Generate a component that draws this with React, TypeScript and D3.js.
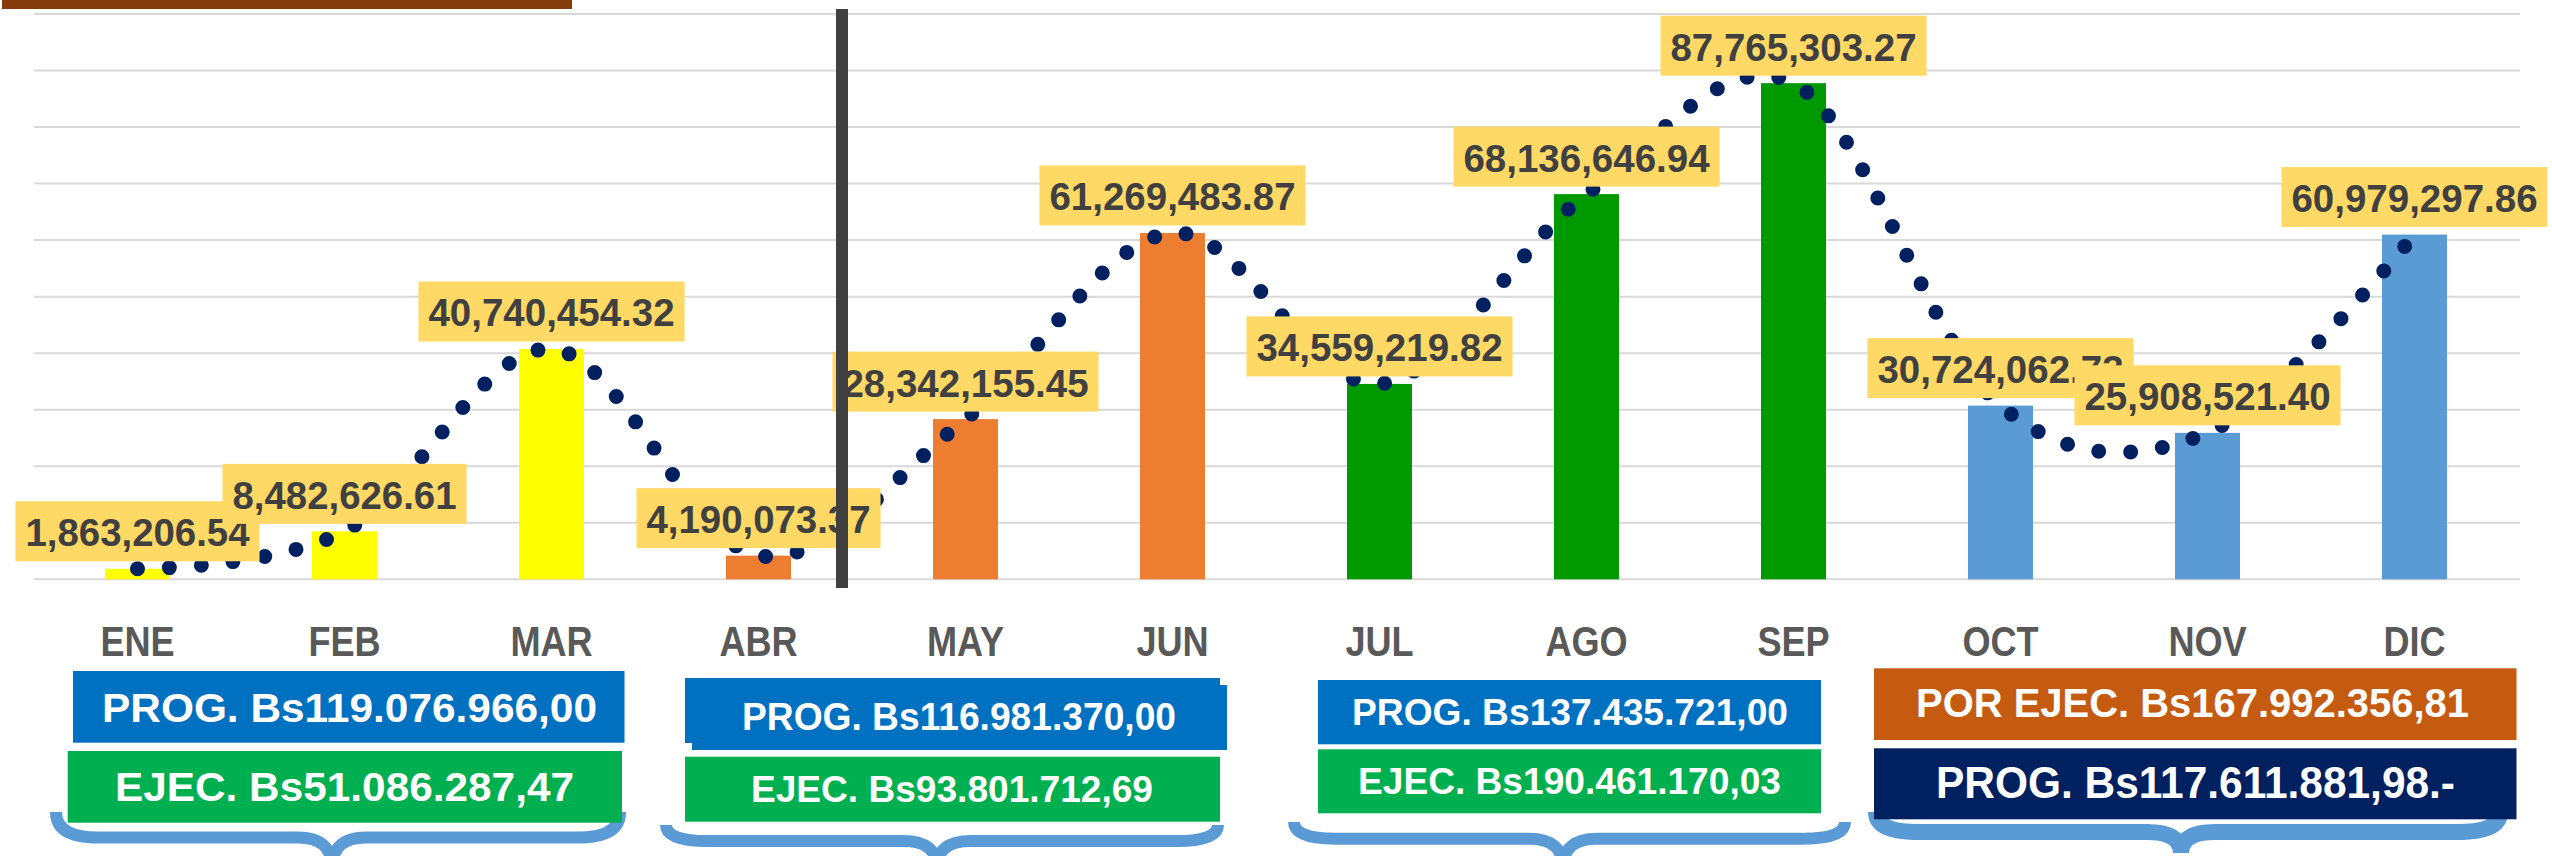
import React from 'react';
import * as d3 from 'd3';

// ---------- data ----------
const months = ['ENE', 'FEB', 'MAR', 'ABR', 'MAY', 'JUN', 'JUL', 'AGO', 'SEP', 'OCT', 'NOV', 'DIC'];
const values = [
  1863206.54, 8482626.61, 40740454.32, 4190073.37, 28342155.45, 61269483.87,
  34559219.82, 68136646.94, 87765303.27, 30724062.73, 25908521.4, 60979297.86,
];
const monthQuarter = [0, 0, 0, 1, 1, 1, 2, 2, 2, 3, 3, 3];
const quarterColors = ['#FFFF00', '#ED7D31', '#009900', '#5B9BD5'];
const yMax = 100000000;

const summaryTexts = [
  'PROG. Bs119.076.966,00',
  'EJEC. Bs51.086.287,47',
  'PROG. Bs116.981.370,00',
  'EJEC. Bs93.801.712,69',
  'PROG. Bs137.435.721,00',
  'EJEC. Bs190.461.170,03',
  'POR EJEC. Bs167.992.356,81',
  'PROG. Bs117.611.881,98.-',
];

// ---------- layout ----------
const W = 2552;
const H = 856;
const plot = { left: 34, right: 2518, top: 14, bottom: 579.3, gridRight: 2520 };

const summaryLayout = [
  { rects: [[73, 671, 624.5, 742.7]], fill: '#0070C0', tx0: 102, tx1: 597, base: 721.7, fs: 41 },
  { rects: [[67.7, 751, 622, 822.7]], fill: '#00B050', tx0: 115, tx1: 574, base: 800.7, fs: 41 },
  { rects: [[685, 678, 1220, 743], [692, 685, 1227, 750]], fill: '#0070C0', tx0: 742, tx1: 1176, base: 730, fs: 38 },
  { rects: [[685, 756.7, 1220, 821.7]], fill: '#00B050', tx0: 751, tx1: 1153, base: 801.7, fs: 37 },
  { rects: [[1318, 680, 1821, 744.3]], fill: '#0070C0', tx0: 1352, tx1: 1788, base: 725, fs: 36 },
  { rects: [[1318, 749.3, 1821, 813.3]], fill: '#00B050', tx0: 1358, tx1: 1781, base: 794, fs: 37 },
  { rects: [[1874, 668.3, 2516.5, 740]], fill: '#C55A11', tx0: 1916, tx1: 2469, base: 716.7, fs: 40 },
  { rects: [[1874, 748.3, 2516.5, 819.3]], fill: '#002060', tx0: 1936, tx1: 2455, base: 798.3, fs: 44 },
];

const braces = [
  { x0: 56, x1: 620, tip: 332, yTop: 812, yBand: 837.5, yTip: 868, w: 12 },
  { x0: 666, x1: 1218, tip: 937, yTop: 825, yBand: 841, yTip: 868, w: 12 },
  { x0: 1294, x1: 1845, tip: 1563, yTop: 822, yBand: 838.7, yTip: 868, w: 12 },
  { x0: 1876, x1: 2500, tip: 2181, yTop: 812, yBand: 832, yTip: 853, w: 16 },
];

function bracePath(b: { x0: number; x1: number; tip: number; yTop: number; yBand: number; yTip: number }) {
  const re = 42;
  const rt = 34;
  return [
    `M${b.x0},${b.yTop}`,
    `Q${b.x0},${b.yBand} ${b.x0 + re},${b.yBand}`,
    `L${b.tip - rt},${b.yBand}`,
    `Q${b.tip},${b.yBand} ${b.tip},${b.yTip}`,
    `M${b.tip},${b.yTip}`,
    `Q${b.tip},${b.yBand} ${b.tip + rt},${b.yBand}`,
    `L${b.x1 - re},${b.yBand}`,
    `Q${b.x1},${b.yBand} ${b.x1},${b.yTop}`,
  ].join(' ');
}

const labelFont = "'Liberation Sans', Arial, sans-serif";

export default function App() {
  const x = d3.scaleBand<string>().domain(months).range([plot.left, plot.right]).padding(0);
  const y = d3.scaleLinear().domain([0, yMax]).range([plot.bottom, plot.top]);
  const step = x.step();
  const barW = step * 0.314;
  const cx = (m: string) => (x(m) as number) + step / 2;

  const fmt = d3.format(',.2f');
  const pts: [number, number][] = months.map((m, i) => [cx(m), y(values[i])]);
  const linePath = d3.line().curve(d3.curveCatmullRom.alpha(0))(pts) || '';

  const ticks = y.ticks(10);

  const labelWidth = (s: string) => {
    let w = 0;
    for (const ch of s) w += /[0-9]/.test(ch) ? 22 : 8.7;
    return w;
  };

  return (
    <svg
      width={W}
      height={H}
      viewBox={`0 0 ${W} ${H}`}
      style={{ position: 'absolute', left: 0, top: 0, background: '#fff' }}
    >
      <rect x={0} y={0} width={W} height={H} fill="#ffffff" />
      {ticks.map((t) => (
        <line key={t} x1={plot.left} x2={plot.gridRight} y1={y(t)} y2={y(t)} stroke="#D9D9D9" strokeWidth={2} />
      ))}
      {months.map((m, i) => (
        <rect
          key={m}
          x={cx(m) - barW / 2}
          y={y(values[i])}
          width={barW}
          height={y(0) - y(values[i])}
          fill={quarterColors[monthQuarter[i]]}
        />
      ))}
      <path
        d={linePath}
        fill="none"
        stroke="#002060"
        strokeWidth={15}
        strokeLinecap="round"
        strokeDasharray="0 32"
      />
      {months.map((m, i) => {
        const s = fmt(values[i]);
        const tw = labelWidth(s);
        const bw = tw + 20;
        const bottom = y(values[i]) - 7.5;
        return (
          <g key={'lab' + m}>
            <rect x={cx(m) - bw / 2} y={bottom - 60} width={bw} height={60} fill="#FFD966" />
            <text
              x={cx(m) - tw / 2}
              y={bottom - 15}
              textLength={tw}
              lengthAdjust="spacingAndGlyphs"
              fontFamily={labelFont}
              fontWeight="bold"
              fontSize={39}
              fill="#404040"
            >
              {s}
            </text>
          </g>
        );
      })}
      {months.map((m) => (
        <text
          key={'cat' + m}
          transform={`translate(${cx(m)},656) scale(0.86,1)`}
          textAnchor="middle"
          fontFamily={labelFont}
          fontWeight="bold"
          fontSize={42}
          fill="#595959"
        >
          {m}
        </text>
      ))}
      <rect x={836} y={9} width={12} height={579} fill="#404040" />
      <rect x={2} y={0} width={570} height={9} fill="#843C0C" />
      {braces.map((b, i) => (
        <path key={'br' + i} d={bracePath(b)} fill="none" stroke="#5B9BD5" strokeWidth={b.w} strokeLinecap="butt" />
      ))}
      {summaryLayout.map((s, i) => (
        <g key={'sum' + i}>
          {s.rects.map((r, j) => (
            <rect key={j} x={r[0]} y={r[1]} width={r[2] - r[0]} height={r[3] - r[1]} fill={s.fill} />
          ))}
          <text
            x={s.tx0}
            y={s.base}
            textLength={s.tx1 - s.tx0}
            lengthAdjust="spacingAndGlyphs"
            fontFamily={labelFont}
            fontWeight="bold"
            fontSize={s.fs}
            fill="#FFFFFF"
          >
            {summaryTexts[i]}
          </text>
        </g>
      ))}
    </svg>
  );
}
